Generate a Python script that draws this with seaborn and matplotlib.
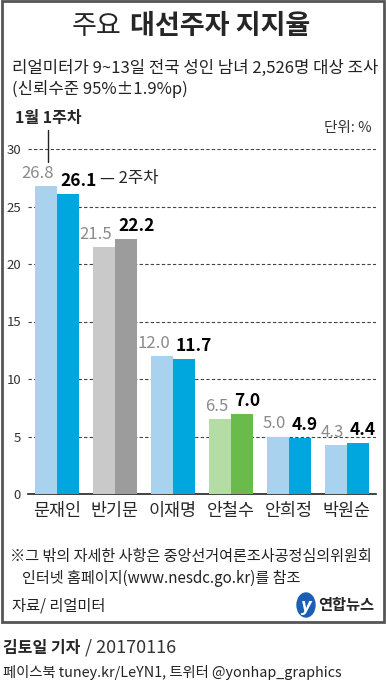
import matplotlib
matplotlib.use("Agg")
import matplotlib.pyplot as plt
import matplotlib.patches as mpatches
import seaborn as sns
import pandas as pd

candidates = ['문재인', '반기문', '이재명', '안철수', '안희정', '박원순']
week1 = [26.8, 21.5, 12.0, 6.5, 5.0, 4.3]
week2 = [26.1, 22.2, 11.7, 7.0, 4.9, 4.4]
weeks = ['1월 1주차', '2주차']
yticks = [0, 5, 10, 15, 20, 25, 30]

light_colors = ['#a8d2ee', '#c9c9c9', '#a8d2ee', '#b6dca6', '#a8d2ee', '#a8d2ee']
dark_colors = ['#00a7de', '#9c9c9c', '#00a7de', '#6aba4c', '#00a7de', '#00a7de']

W, H = 387, 687


def px(x, y):
    return x / W, 1 - y / H


sns.set_style('white')
plt.rcParams['font.family'] = ['Noto Sans CJK KR', 'DejaVu Sans']

df = pd.DataFrame({
    '후보': candidates * 2,
    '지지율': week1 + week2,
    '주차': [weeks[0]] * len(candidates) + [weeks[1]] * len(candidates),
})

fig = plt.figure(figsize=(W / 100, H / 100), dpi=100)
ax = fig.add_axes([28 / W, 1 - 494 / H, 348 / W, 345 / H])

sns.barplot(data=df, x='후보', y='지지율', hue='주차', width=0.76,
            saturation=1, legend=False, ax=ax, zorder=3)

for i, cont in enumerate(ax.containers):
    cols = light_colors if i == 0 else dark_colors
    for bar, c in zip(cont, cols):
        bar.set_facecolor(c)
        bar.set_edgecolor('none')

ax.set_ylim(0, 30)
ax.set_xlim(-0.5, len(candidates) - 0.5)
ax.set_yticks(yticks)
ax.set_xlabel('')
ax.set_ylabel('')
for t in yticks[1:]:
    ax.axhline(t, color='#444444', lw=0.8, ls=(0, (3, 2)), zorder=1)
for s in ['top', 'right', 'left']:
    ax.spines[s].set_visible(False)
ax.spines['bottom'].set_color('#222222')
ax.spines['bottom'].set_linewidth(1.2)
ax.tick_params(axis='y', length=0, pad=5, labelsize=9.5, labelcolor='#333333')
ax.tick_params(axis='x', length=0, pad=6, labelsize=12.5)

# value labels
labels2 = []
for j, (a, b) in enumerate(zip(week1, week2)):
    ax.annotate(f'{a:.1f}', xy=(j, a), xytext=(-3, 4), textcoords='offset pixels',
                ha='right', va='bottom', fontsize=12, color='#8a8a8a')
    labels2.append(ax.annotate(f'{b:.1f}', xy=(j, b), xytext=(3, 4),
                               textcoords='offset pixels', ha='left', va='bottom',
                               fontsize=12.5, fontweight='bold', color='black'))

# title & subtitle
t1 = fig.text(*px(72, 26), '주요', fontsize=19.5, va='center')
name = fig.text(*px(3, 648), '김토일 기자', fontsize=11.5, fontweight='bold', va='center')
fig.canvas.draw()
bb = t1.get_window_extent()
fig.text((bb.x1 + 8) / W, 1 - 26 / H, '대선주자 지지율', fontsize=19.5,
         fontweight='bold', va='center')
fig.text(*px(12, 68), '리얼미터가 9~13일 전국 성인 남녀 2,526명 대상 조사',
         fontsize=12, va='center', color='#222222')
fig.text(*px(12, 89), '(신뢰수준 95%±1.9%p)', fontsize=12, va='center', color='#222222')

# week callouts
fig.text(*px(15, 118), '1월 1주차', fontsize=11.5, fontweight='bold', va='center')
fig.add_artist(plt.Line2D([48 / W, 48 / W], [1 - 130 / H, 1 - 162 / H],
                          color='#222222', lw=1))
lb = labels2[0].get_window_extent()
fig.text((lb.x1 + 4) / W, 1 - 178 / H, '— 2주차', fontsize=12, va='center')
fig.text(*px(372, 128), '단위: %', fontsize=10.5, ha='right', va='center', color='#333333')

# notes
fig.text(*px(10, 556), '※그 밖의 자세한 사항은 중앙선거여론조사공정심의위원회',
         fontsize=10.9, va='center', color='#222222')
fig.text(*px(22, 578), '인터넷 홈페이지(www.nesdc.go.kr)를 참조',
         fontsize=10.9, va='center', color='#222222')
fig.text(*px(12, 606), '자료/ 리얼미터', fontsize=11, va='center', color='#222222')

# logo
fig.add_artist(mpatches.Ellipse(px(306, 605), 18 / W, 24 / H, color='#1a5fb4'))
fig.text(*px(306, 606), 'y', fontsize=12, fontweight='bold', style='italic',
         color='white', ha='center', va='center', family='DejaVu Sans')
fig.text(*px(318, 605), '연합뉴스', fontsize=11, fontweight='bold', va='center')

# frame
fig.add_artist(mpatches.Rectangle(px(2, 622), 382 / W, 621 / H, fill=False,
                                  edgecolor='#555555', lw=2))

# footer
nb = name.get_window_extent()
fig.text((nb.x1 + 5) / W, 1 - 648 / H, '/ 20170116', fontsize=13, va='center',
         color='#333333')
fig.text(*px(3, 673), '페이스북 tuney.kr/LeYN1, 트위터 @yonhap_graphics',
         fontsize=10.3, va='center', color='#222222')

fig.savefig('out.png', dpi=100)
plt.close(fig)
